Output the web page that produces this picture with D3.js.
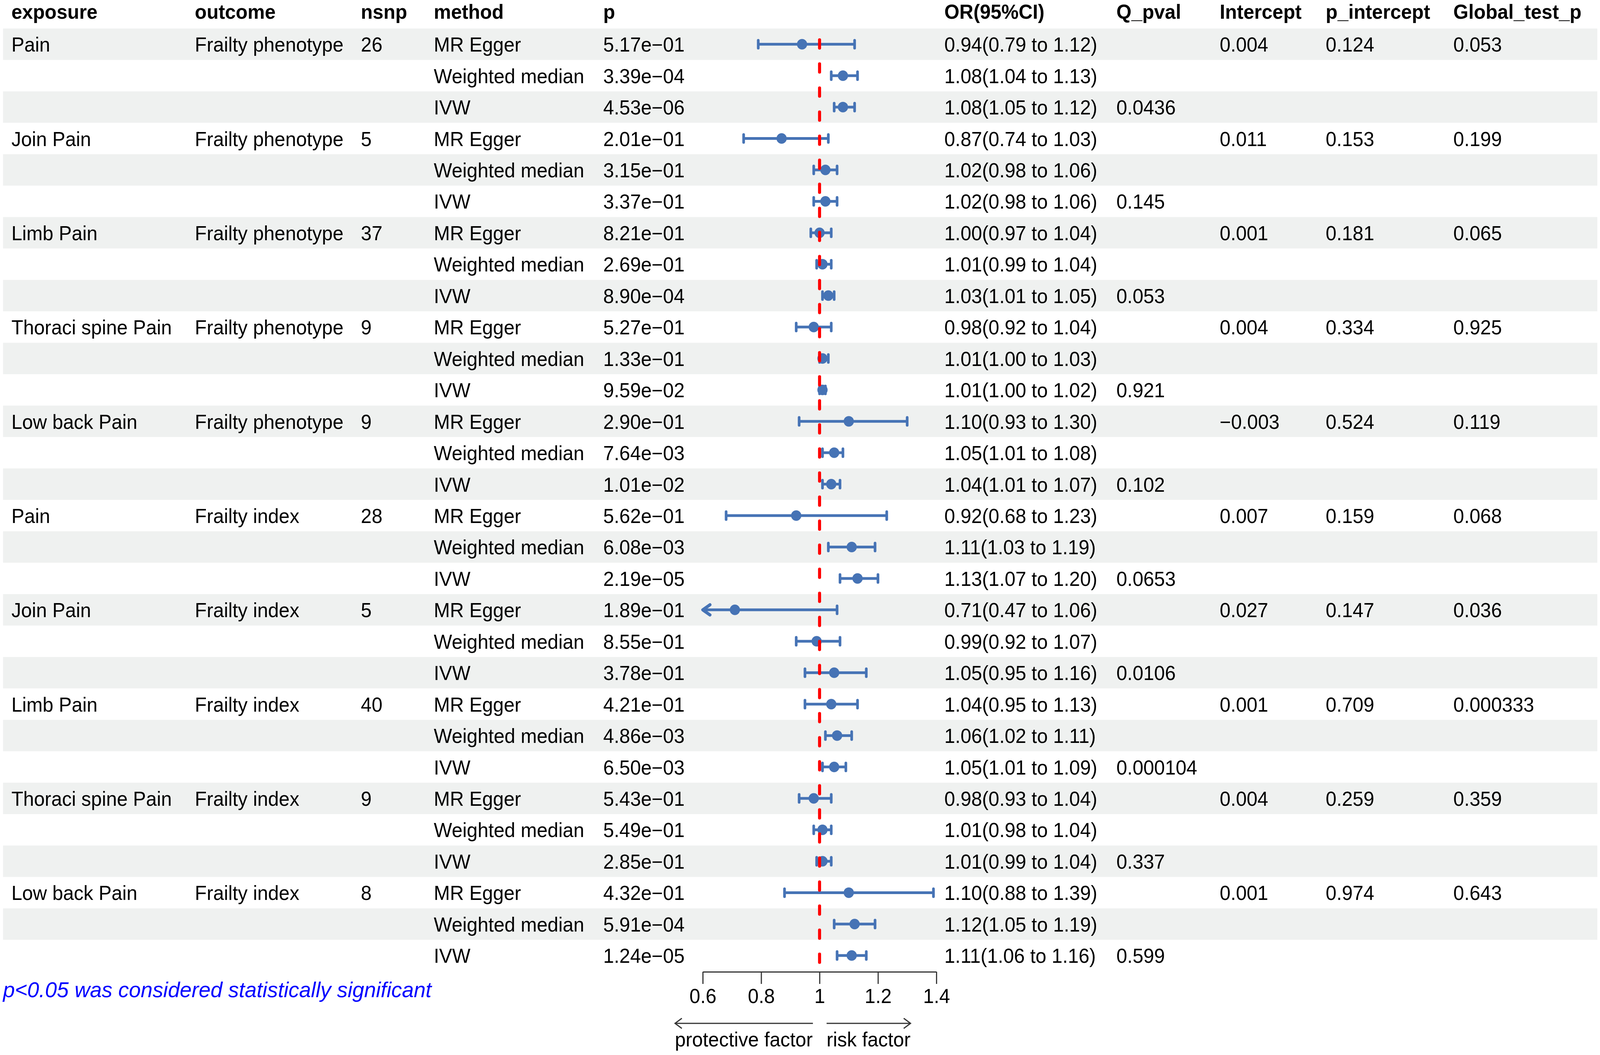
<!DOCTYPE html>
<html>
<head>
<meta charset="utf-8">
<script src="https://cdn.jsdelivr.net/npm/d3@7"></script>
<style>
  html, body { margin: 0; padding: 0; background: #fff; overflow: hidden; width: 100%; height: 100%; }
  svg { display: block; width: 100vw; height: 100vh; }
  text { font-family: "Liberation Sans", Arial, sans-serif; }
</style>
</head>
<body>
<script>
// ---------------- data ----------------
const headers = ["exposure", "outcome", "nsnp", "method", "p", "OR(95%CI)", "Q_pval", "Intercept", "p_intercept", "Global_test_p"];

const exposure = ["Pain", "", "", "Join Pain", "", "", "Limb Pain", "", "", "Thoraci spine Pain", "", "", "Low back Pain", "", "",
                  "Pain", "", "", "Join Pain", "", "", "Limb Pain", "", "", "Thoraci spine Pain", "", "", "Low back Pain", "", ""];
const outcome = ["Frailty phenotype", "", "", "Frailty phenotype", "", "", "Frailty phenotype", "", "", "Frailty phenotype", "", "", "Frailty phenotype", "", "",
                 "Frailty index", "", "", "Frailty index", "", "", "Frailty index", "", "", "Frailty index", "", "", "Frailty index", "", ""];
const nsnp = ["26", "", "", "5", "", "", "37", "", "", "9", "", "", "9", "", "",
              "28", "", "", "5", "", "", "40", "", "", "9", "", "", "8", "", ""];
const methods = ["MR Egger", "Weighted median", "IVW"];
const method = d3.range(30).map(i => methods[i % 3]);
const pval = ["5.17e−01", "3.39e−04", "4.53e−06", "2.01e−01", "3.15e−01", "3.37e−01", "8.21e−01", "2.69e−01", "8.90e−04",
              "5.27e−01", "1.33e−01", "9.59e−02", "2.90e−01", "7.64e−03", "1.01e−02",
              "5.62e−01", "6.08e−03", "2.19e−05", "1.89e−01", "8.55e−01", "3.78e−01", "4.21e−01", "4.86e−03", "6.50e−03",
              "5.43e−01", "5.49e−01", "2.85e−01", "4.32e−01", "5.91e−04", "1.24e−05"];
const orVal = [0.94, 1.08, 1.08, 0.87, 1.02, 1.02, 1.00, 1.01, 1.03, 0.98, 1.01, 1.01, 1.10, 1.05, 1.04,
               0.92, 1.11, 1.13, 0.71, 0.99, 1.05, 1.04, 1.06, 1.05, 0.98, 1.01, 1.01, 1.10, 1.12, 1.11];
const lower = [0.79, 1.04, 1.05, 0.74, 0.98, 0.98, 0.97, 0.99, 1.01, 0.92, 1.00, 1.00, 0.93, 1.01, 1.01,
               0.68, 1.03, 1.07, 0.47, 0.92, 0.95, 0.95, 1.02, 1.01, 0.93, 0.98, 0.99, 0.88, 1.05, 1.06];
const upper = [1.12, 1.13, 1.12, 1.03, 1.06, 1.06, 1.04, 1.04, 1.05, 1.04, 1.03, 1.02, 1.30, 1.08, 1.07,
               1.23, 1.19, 1.20, 1.06, 1.07, 1.16, 1.13, 1.11, 1.09, 1.04, 1.04, 1.04, 1.39, 1.19, 1.16];
const qPval = ["", "", "0.0436", "", "", "0.145", "", "", "0.053", "", "", "0.921", "", "", "0.102",
               "", "", "0.0653", "", "", "0.0106", "", "", "0.000104", "", "", "0.337", "", "", "0.599"];
const intercept = ["0.004", "", "", "0.011", "", "", "0.001", "", "", "0.004", "", "", "−0.003", "", "",
                   "0.007", "", "", "0.027", "", "", "0.001", "", "", "0.004", "", "", "0.001", "", ""];
const pIntercept = ["0.124", "", "", "0.153", "", "", "0.181", "", "", "0.334", "", "", "0.524", "", "",
                    "0.159", "", "", "0.147", "", "", "0.709", "", "", "0.259", "", "", "0.974", "", ""];
const globalP = ["0.053", "", "", "0.199", "", "", "0.065", "", "", "0.925", "", "", "0.119", "", "",
                 "0.068", "", "", "0.036", "", "", "0.000333", "", "", "0.359", "", "", "0.643", "", ""];

const tickValues = [0.6, 0.8, 1, 1.2, 1.4];
const tickLabels = ["0.6", "0.8", "1", "1.2", "1.4"];
const refValue = 1;
const footnote = "p<0.05 was considered statistically significant";
const leftLabel = "protective factor";
const rightLabel = "risk factor";

// ---------------- layout ----------------
const W = 4212, H = 2701;
const FS = 51;
const colX = [30, 513, 950, 1142, 1588, null, 2486, 2939, 3211, 3490, 3826];
const textCols = [exposure, outcome, nsnp, method, pval, null,
                  d3.range(30).map(i => `${d3.format(".2f")(orVal[i])}(${d3.format(".2f")(lower[i])} to ${d3.format(".2f")(upper[i])})`),
                  qPval, intercept, pIntercept, globalP];
const headerCols = [0, 1, 2, 3, 4, 6, 7, 8, 9, 10];

const svg = d3.select("body").append("svg")
  .attr("viewBox", `0 0 ${W} ${H}`).attr("preserveAspectRatio", "none");

const n = orVal.length;
const y = d3.scaleBand().domain(d3.range(n)).range([73, 73 + n * 80.45]).padding(0);
const yc = i => y(i) + y.bandwidth() / 2;
const x = d3.scaleLinear().domain([0.6, 1.4]).range([1850, 2465]);
const blue = "#4673b5";

// row bands
svg.append("g").selectAll("rect").data(d3.range(n).filter(i => i % 2 === 0)).join("rect")
  .attr("x", 8).attr("width", 4197).attr("y", i => y(i)).attr("height", y.bandwidth())
  .attr("fill", "#eff1f0");

// header
svg.append("g").selectAll("text").data(headerCols).join("text")
  .attr("x", (c, k) => colX[c]).attr("y", 48)
  .attr("font-size", FS).attr("font-weight", "bold").attr("fill", "#000")
  .text((c, k) => headers[k]);

// table text
textCols.forEach((col, c) => {
  if (!col) return;
  svg.append("g").selectAll("text").data(col).join("text")
    .attr("x", colX[c]).attr("y", (d, i) => yc(i) + 19)
    .attr("font-size", FS).attr("fill", "#000")
    .text(d => d);
});

// forest marks
const g = svg.append("g");
const clipLo = x.domain()[0], clipHi = x.domain()[1];
d3.range(n).forEach(i => {
  const cy = yc(i);
  const lo = Math.max(lower[i], clipLo), hi = Math.min(upper[i], clipHi);
  g.append("line").attr("x1", x(lo)).attr("x2", x(hi)).attr("y1", cy).attr("y2", cy)
    .attr("stroke", blue).attr("stroke-width", 7);
  if (lower[i] >= clipLo) {
    g.append("line").attr("x1", x(lower[i])).attr("x2", x(lower[i])).attr("y1", cy - 10).attr("y2", cy + 10)
      .attr("stroke", blue).attr("stroke-width", 7).attr("stroke-linecap", "round");
  } else {
    g.append("polyline").attr("points", `${x(clipLo) + 19},${cy - 13} ${x(clipLo)},${cy} ${x(clipLo) + 19},${cy + 13}`)
      .attr("fill", "none").attr("stroke", blue).attr("stroke-width", 8).attr("stroke-linecap", "round").attr("stroke-linejoin", "round");
  }
  if (upper[i] <= clipHi) {
    g.append("line").attr("x1", x(upper[i])).attr("x2", x(upper[i])).attr("y1", cy - 10).attr("y2", cy + 10)
      .attr("stroke", blue).attr("stroke-width", 7).attr("stroke-linecap", "round");
  }
  g.append("circle").attr("cx", x(orVal[i])).attr("cy", cy).attr("r", 13.5).attr("fill", blue);
});

// reference line
svg.append("line").attr("x1", x(refValue)).attr("x2", x(refValue)).attr("y1", 102).attr("y2", 2464)
  .attr("stroke", "#ff0000").attr("stroke-width", 8).attr("stroke-linecap", "round")
  .attr("stroke-dasharray", "21,40.6");

// axis
const axis = d3.axisBottom(x).tickValues(tickValues).tickFormat((d, k) => tickLabels[k]).tickSize(31).tickSizeOuter(0);
const ax = svg.append("g").attr("transform", "translate(0,2488)").call(axis);
ax.select(".domain").attr("stroke", "#333").attr("stroke-width", 3);
ax.selectAll(".tick line").attr("stroke", "#333").attr("stroke-width", 3);
ax.selectAll(".tick text").attr("y", 80).attr("dy", null).attr("font-size", FS).attr("fill", "#000")
  .attr("font-family", "'Liberation Sans', Arial, sans-serif");

// direction arrows
const ay = 2620;
const arr = svg.append("g").attr("stroke", "#333").attr("stroke-width", 3).attr("fill", "none");
arr.append("line").attr("x1", 1777).attr("x2", 2140).attr("y1", ay).attr("y2", ay);
arr.append("polyline").attr("points", `${1777 + 18},${ay - 13} 1777,${ay} ${1777 + 18},${ay + 13}`);
arr.append("line").attr("x1", 2176).attr("x2", 2397).attr("y1", ay).attr("y2", ay);
arr.append("polyline").attr("points", `${2397 - 18},${ay - 13} 2397,${ay} ${2397 - 18},${ay + 13}`);
svg.append("text").attr("x", (1777 + 2139) / 2).attr("y", 2679).attr("text-anchor", "middle")
  .attr("font-size", FS).attr("fill", "#000").text(leftLabel);
svg.append("text").attr("x", (2176 + 2397) / 2).attr("y", 2679).attr("text-anchor", "middle")
  .attr("font-size", FS).attr("fill", "#000").text(rightLabel);

// footnote
svg.append("text").attr("x", 8).attr("y", 2553).attr("font-size", 56).attr("font-style", "italic")
  .attr("fill", "#0000ff").text(footnote);
</script>
</body>
</html>
